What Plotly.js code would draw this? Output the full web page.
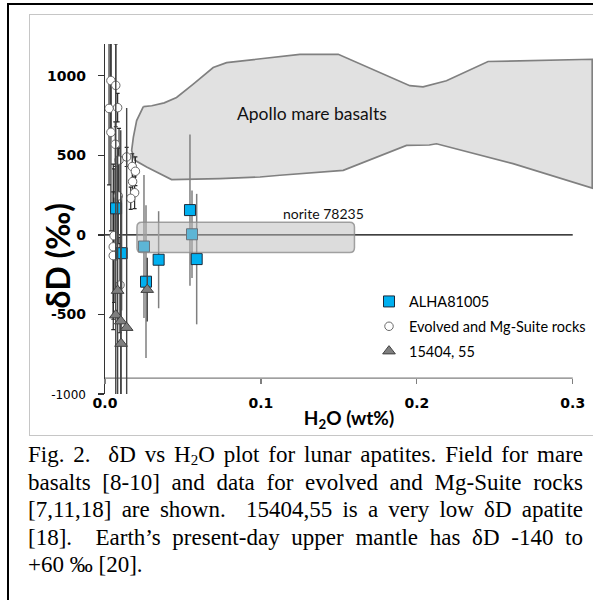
<!DOCTYPE html>
<html><head><meta charset="utf-8">
<script src="https://cdn.plot.ly/plotly-3.0.1.min.js"></script>
<style>
html,body{margin:0;padding:0;background:#fff;}
body{width:593px;height:600px;position:relative;overflow:hidden;}
#frame{position:absolute;left:7px;top:3px;width:700px;height:700px;border-top:2px solid #000;border-left:2px solid #000;}
#panel{position:absolute;left:29px;top:14px;width:700px;height:420px;border:1.5px solid #c6c6c6;}
#chart{position:absolute;left:0;top:0;width:593px;height:600px;}
#caption{position:absolute;left:28px;top:441px;width:555px;font-family:"Liberation Serif","Times New Roman",serif;font-size:23px;color:#000;}
#caption div{line-height:27.5px;height:27.5px;text-align:justify;text-align-last:justify;}
#caption div.last{text-align:left;text-align-last:left;}
#caption sub{font-size:15px;vertical-align:-3px;line-height:0;}
</style></head>
<body>
<div id="frame"></div>
<div id="panel"></div>
<div id="chart"></div>
<div id="caption">
<div>Fig. 2.&nbsp; δD vs H<sub>2</sub>O plot for lunar apatites. Field for mare</div>
<div>basalts [8-10] and data for evolved and Mg-Suite rocks</div>
<div>[7,11,18] are shown.&nbsp; 15404,55 is a very low δD apatite</div>
<div>[18].&nbsp; Earth’s present-day upper mantle has δD -140 to</div>
<div class="last">+60 ‰ [20].</div>
</div>
<script>
// ---- data ----
const alhaX = [0.0071, 0.0107, 0.0250, 0.0263, 0.0344, 0.0545, 0.0558, 0.0588];
const alhaY = [167, -115, -73, -294, -156, 156, 4, -152];
const alhaErr = [330, 360, 450, 480, 305, 475, 275, 410];

const evolvedX = [0.0038, 0.0069, 0.0026, 0.0081, 0.0038, 0.0066, 0.0090, 0.0139, 0.0175, 0.0195, 0.0177, 0.0190, 0.0165, 0.0085, 0.0058, 0.0053, 0.0053, 0.0096];
const evolvedY = [970, 940, 795, 800, 645, 570, 470, 490, 430, 400, 335, 265, 230, 245, -5, -75, -130, -315];
const evolvedErrY = [300, 260, 480, 90, 620, 140, 200, 60, 80, 90, 90, 100, 70, 300, 420, 520, 400, 300];
const evolvedErrX = [0, 0, 0, 0, 0, 0.001, 0, 0.002, 0.002, 0.002, 0.002, 0.002, 0.002, 0, 0, 0, 0, 0];

const triX = [0.0081, 0.0069, 0.0101, 0.0139, 0.0103, 0.0271];
const triY = [-350, -504, -542, -583, -683, -344];
const triErr = [900, 1800, 1200, 1380, 900, 200];

// Apollo mare basalts field outline
const mareX = [0.0246, 0.0300, 0.0380, 0.0459, 0.0566, 0.0694, 0.0780, 0.1250, 0.1496, 0.1955, 0.2040, 0.2190, 0.2457, 0.3125,
               0.3125, 0.2617, 0.2126, 0.2080, 0.1934, 0.1528, 0.1122, 0.0994, 0.0737, 0.0427,
               0.0267, 0.0192, 0.0171, 0.0182, 0.0203];
const mareY = [806, 812, 830, 864, 948, 1052, 1083, 1135, 1135, 938, 931, 969, 1090, 1104,
               294, 448, 573, 565, 563, 406, 375, 364, 354, 348,
               427, 469, 531, 615, 719];

// norite 78235 field
const noriteX = [0.0205, 0.160];
const noriteY = [-110, 80];

const names = ['ALHA81005', 'Evolved and Mg-Suite rocks', '15404, 55'];
const xTickVals = [0, 0.1, 0.2, 0.3];
const xTickText = ['0.0', '0.1', '0.2', '0.3'];
const yTickVals = [-1000, -500, 0, 500, 1000];
const yTickText = ['-1000', '-500', '0', '500', '1000'];
const xRange = [0, 0.313];
const yRange = [-1000, 1200];
const axisCrossY = -900;

// ---- traces ----
const traces = [
  {x: mareX.concat([mareX[0]]), y: mareY.concat([mareY[0]]), mode: 'lines', fill: 'toself',
   fillcolor: '#e1e1e1', line: {color: '#808080', width: 1.7}, showlegend: false, hoverinfo: 'skip'},
  {x: evolvedX, y: evolvedY, mode: 'markers', name: names[1], legendgroup: 'b', legendrank: 2,
   marker: {symbol: 'circle', size: 8.5, color: '#ffffff', line: {color: '#6a6a6a', width: 1}},
   error_y: {type: 'data', array: evolvedErrY, color: '#2a2a2a', thickness: 1.2, width: 2},
   error_x: {type: 'data', array: evolvedErrX, color: '#2a2a2a', thickness: 1.2, width: 2}},
  {x: alhaX, y: alhaY, mode: 'markers', name: names[0], legendgroup: 'a', legendrank: 1,
   marker: {symbol: 'square', size: 11, color: '#00b0f0', line: {color: '#1c2a3a', width: 1}},
   error_y: {type: 'data', array: alhaErr, color: '#7f7f7f', thickness: 1.5, width: 0}},
  {x: triX, y: triY, mode: 'markers', name: names[2], legendgroup: 'c', legendrank: 3,
   marker: {symbol: 'triangle-up', size: 11, color: '#7f7f7f', line: {color: '#404040', width: 1}},
   error_y: {type: 'data', array: triErr, color: '#454545', thickness: 1.4, width: 0}}
];

const rx = 0.003, ry = 30;
const nx0 = noriteX[0], nx1 = noriteX[1], ny0 = noriteY[0], ny1 = noriteY[1];
const noritePath = `M ${nx0+rx},${ny0} L ${nx1-rx},${ny0} Q ${nx1},${ny0} ${nx1},${ny0+ry} L ${nx1},${ny1-ry} Q ${nx1},${ny1} ${nx1-rx},${ny1} L ${nx0+rx},${ny1} Q ${nx0},${ny1} ${nx0},${ny1-ry} L ${nx0},${ny0+ry} Q ${nx0},${ny0} ${nx0+rx},${ny0} Z`;

const axisPos = (axisCrossY - yRange[0]) / (yRange[1] - yRange[0]);

const layout = {
  width: 593, height: 600,
  margin: {l: 105, r: 0, t: 44, b: 206},
  paper_bgcolor: 'rgba(0,0,0,0)', plot_bgcolor: 'rgba(0,0,0,0)',
  font: {family: 'Lato, sans-serif', color: '#000'},
  showlegend: true,
  xaxis: {range: xRange, anchor: 'free', position: axisPos, showgrid: false, zeroline: false, showline: false,
          ticks: 'outside', ticklen: 5, tickcolor: '#7f7f7f', tickwidth: 1.2,
          tickvals: xTickVals, ticktext: xTickText, ticklabelstandoff: 7,
          tickfont: {family: 'DejaVu Sans', size: 14, weight: 'bold', color: '#000'},
          title: {text: '<b>H<sub>2</sub>O (wt%)</b>', font: {family: 'Lato', size: 19, color: '#000'}, standoff: 1}},
  xaxis2: {overlaying: 'x', range: xRange, anchor: 'free', position: axisPos, showgrid: false, zeroline: false,
           showline: false, ticks: 'inside', ticklen: 5, tickcolor: '#7f7f7f', tickwidth: 1.2,
           tickvals: xTickVals, showticklabels: false},
  yaxis: {range: yRange, showgrid: false, zeroline: false, showline: true, linecolor: '#333', linewidth: 1.2,
          ticks: 'outside', ticklen: 6, tickcolor: '#333', tickwidth: 1.2, tickvals: yTickVals,
          ticktext: yTickText.map((t, i) => i === 0 ? '<span style="font-size:12px;font-weight:normal">' + t + '</span>' : t),
          ticklabelstandoff: 9, tickfont: {family: 'DejaVu Sans', size: 14, weight: 'bold', color: '#000'}},
  legend: {x: 0.541, y: 0.31, xanchor: 'left', yanchor: 'top', font: {family: 'Lato', size: 14.5, color: '#000'},
           bgcolor: 'rgba(0,0,0,0)', traceorder: 'grouped', tracegroupgap: 3, itemwidth: 30},
  shapes: [
    {type: 'line', xref: 'x', yref: 'y', x0: xTickVals[0], x1: xTickVals[xTickVals.length-1], y0: 0, y1: 0,
     line: {color: '#000', width: 1.2}, layer: 'below'},
    {type: 'line', xref: 'x', yref: 'y', x0: xTickVals[0], x1: xTickVals[xTickVals.length-1], y0: axisCrossY, y1: axisCrossY,
     line: {color: '#7f7f7f', width: 1.2}, layer: 'below'},
    {type: 'path', xref: 'x', yref: 'y', path: noritePath, fillcolor: 'rgba(186,186,186,0.5)',
     line: {color: 'rgba(140,140,140,0.8)', width: 1.5}, layer: 'above'}
  ],
  annotations: [
    {xref: 'paper', yref: 'paper', x: -0.097, y: 0.395, text: '<b>δD (‰)</b>', textangle: -90, showarrow: false,
     xanchor: 'center', yanchor: 'middle', font: {family: 'Lato', size: 32, color: '#000'}},
    {xref: 'x', yref: 'y', x: 0.1327, y: 763, text: 'Apollo mare basalts', showarrow: false,
     font: {family: 'Lato', size: 17.5, color: '#111'}},
    {xref: 'x', yref: 'y', x: 0.1404, y: 137, text: 'norite 78235', showarrow: false,
     font: {family: 'Lato', size: 14, color: '#111'}}
  ]
};

Plotly.newPlot('chart', traces, layout, {displayModeBar: false, staticPlot: true});
</script>
</body></html>
